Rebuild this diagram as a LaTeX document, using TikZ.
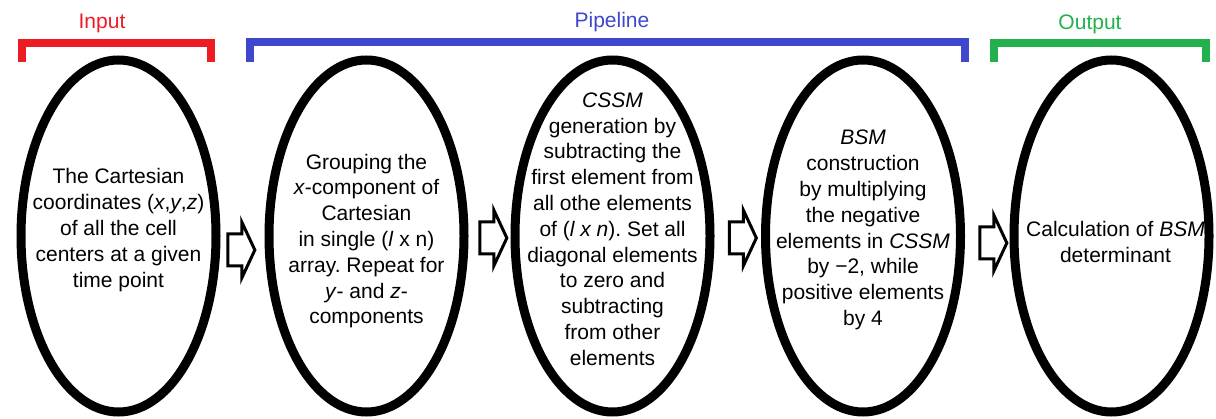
\documentclass[tikz,border=0pt]{standalone}
\usepackage{fontspec}
\setmainfont{Liberation Sans}
\usetikzlibrary{shapes.geometric, shapes.arrows, positioning}
\definecolor{inred}{RGB}{237,28,36}
\definecolor{pipeblue}{RGB}{63,72,204}
\definecolor{outgreen}{RGB}{34,177,76}
\frenchspacing

\begin{document}
\begin{tikzpicture}[x=1pt, y=-1pt,
  stage/.style={ellipse, draw, line width=9pt, minimum width=195pt, minimum height=352pt, inner sep=0pt},
  stagetext/.style={align=center, inner sep=0pt, font=\fontsize{21}{25.8}\selectfont},
  blockarrow/.style={single arrow, draw, line width=3pt, inner xsep=0pt, inner ysep=14.5pt,
    minimum height=27pt, single arrow head extend=12pt, single arrow tip angle=130, anchor=tip},
  bracket/.style={line width=8pt, line join=miter},
  head/.style={font=\fontsize{21}{25}\selectfont}]
  \useasboundingbox (0,0) rectangle (1216,419);
  % Brackets and their titles
  \draw[bracket, inred] (22,62) -- (22,43) -- (211,43) -- (211,62);
  \node[head, text=inred] (input) at (102,23) {Input};
  \draw[bracket, pipeblue] (249.5,62) -- (249.5,42.5) -- (964.5,42.5) -- (964.5,62);
  \node[head, text=pipeblue] (pipeline) at (612,22) {Pipeline};
  \draw[bracket, outgreen] (994,62) -- (994,43) -- (1206,43) -- (1206,62);
  \node[head, text=outgreen] (output) at (1090,24) {Output};
  % Stages
  \node[stage] (coords) at (118.5,236) {};
  \node[stage] (group) at (366.5,236) {};
  \node[stage] (cssm) at (612.5,236) {};
  \node[stage] (bsm) at (863,236) {};
  \node[stage] (det) at (1111.5,236) {};
  \node[stagetext] (coordstext) at ([yshift=6pt]coords.center)
    {The Cartesian\\ coordinates (\textit{x},\textit{y},\textit{z})\\ of all the cell\\ centers at a given\\ time point};
  \node[stagetext] (grouptext) at ([yshift=-5pt]group.center)
    {Grouping the\\ \textit{x}-component of\\ Cartesian\\ in single (\textit{l} x n)\\ array. Repeat for\\ \textit{y}- and \textit{z}-\\ components};
  \node[stagetext] (cssmtext) at ([yshift=7pt]cssm.center)
    {\textit{CSSM}\\ generation by\\ subtracting the\\ first element from\\ all othe elements\\ of (\textit{l x n}). Set all\\ diagonal elements\\ to zero and\\ subtracting\\ from other\\ elements};
  \node[stagetext] (bsmtext) at ([yshift=6pt]bsm.center)
    {\textit{BSM}\\ construction\\ by multiplying\\ the negative\\ elements in \textit{CSSM}\\ by −2, while\\ positive elements\\ by 4};
  \node[stagetext] (dettext) at ([xshift=4pt, yshift=-6pt]det.center)
    {Calculation of \textit{BSM}\\ determinant};
  % Block arrows between stages
  \node[blockarrow] (a1) at ([xshift=-8pt, yshift=-14pt]group.west) {};
  \node[blockarrow] (a2) at ([xshift=-2pt, yshift=-2pt]cssm.west) {};
  \node[blockarrow] (a3) at ([xshift=-3pt, yshift=-2pt]bsm.west) {};
  \node[blockarrow] (a4) at ([xshift=-1pt, yshift=-7pt]det.west) {};
\end{tikzpicture}
\end{document}
